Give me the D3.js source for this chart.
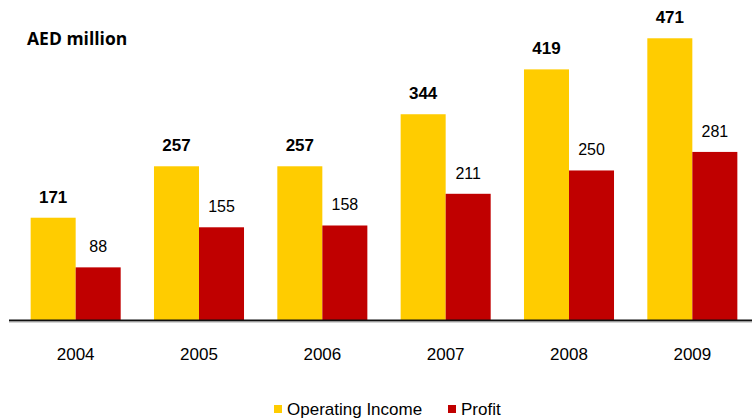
<!DOCTYPE html>
<html>
<head>
<meta charset="utf-8">
<script src="https://cdn.jsdelivr.net/npm/d3@7/dist/d3.min.js"></script>
<style>
  html, body { margin: 0; padding: 0; background: #fff; }
  svg { display: block; }
</style>
</head>
<body>
<svg id="chart" width="752" height="418"></svg>
<script>
// Yearly figures, AED million
const years = ["2004", "2005", "2006", "2007", "2008", "2009"];
const operatingIncome = [171, 257, 257, 344, 419, 471];
const profit = [88, 155, 158, 211, 250, 281];
const seriesNames = ["Operating Income", "Profit"];
const seriesColors = ["#FFCC00", "#C00000"];
const unitLabel = "AED million";

const FONT = "'Liberation Sans', Arial, sans-serif";
const svg = d3.select("#chart");
const W = 752;
const baseY = 320;

const x = d3.scaleBand().domain(years).range([14, 754]).paddingInner(0.27).paddingOuter(0.135);
const xs = d3.scaleBand().domain(seriesNames).range([0, x.bandwidth()]);
const y = d3.scaleLinear().domain([0, 535]).range([baseY, 0]);

const rows = years.map((yr, i) => ({ year: yr, values: [operatingIncome[i], profit[i]] }));

const groups = svg.selectAll("g.year").data(rows).join("g")
  .attr("class", "year")
  .attr("transform", d => `translate(${x(d.year)},0)`);

groups.selectAll("rect").data(d => d.values.map((v, k) => ({ v, k }))).join("rect")
  .attr("x", d => xs(seriesNames[d.k]))
  .attr("y", d => y(d.v))
  .attr("width", xs.bandwidth())
  .attr("height", d => baseY - y(d.v))
  .attr("fill", d => seriesColors[d.k]);

groups.selectAll("text.val").data(d => d.values.map((v, k) => ({ v, k }))).join("text")
  .attr("class", "val")
  .attr("x", d => xs(seriesNames[d.k]) + xs.bandwidth() / 2)
  .attr("y", d => y(d.v) - 15)
  .attr("text-anchor", "middle")
  .style("font-family", FONT)
  .style("font-size", d => d.k === 0 ? "17px" : "16px")
  .style("font-weight", d => d.k === 0 ? "bold" : "normal")
  .attr("fill", "#000")
  .text(d => d.v);

// baseline
svg.append("line")
  .attr("x1", 9).attr("x2", W)
  .attr("y1", baseY + 0.5).attr("y2", baseY + 0.5)
  .attr("stroke", "#111").attr("stroke-width", 2);
svg.append("line")
  .attr("x1", 9).attr("x2", W)
  .attr("y1", baseY + 2).attr("y2", baseY + 2)
  .attr("stroke", "#aaa").attr("stroke-width", 1);

// year labels
const xAxis = d3.axisBottom(x).tickSize(0).tickPadding(0);
const axisG = svg.append("g").attr("transform", `translate(0,${baseY})`).call(xAxis);
axisG.select(".domain").remove();
axisG.selectAll("text")
  .attr("y", 40)
  .attr("dy", 0)
  .style("font-family", FONT)
  .style("font-size", "17px")
  .attr("fill", "#000");

// unit label
svg.append("text")
  .attr("x", 27).attr("y", 45)
  .style("font-family", "'Open Sans', sans-serif")
  .style("font-weight", "bold")
  .style("font-size", "17.5px")
  .attr("fill", "#000")
  .text(unitLabel);

// legend
const legendX = [274, 448];
const leg = svg.selectAll("g.leg").data(seriesNames).join("g")
  .attr("class", "leg")
  .attr("transform", (d, i) => `translate(${legendX[i]},405)`);
leg.append("rect").attr("width", 8).attr("height", 8).attr("fill", (d, i) => seriesColors[i]);
leg.append("text")
  .attr("x", 13).attr("y", 10)
  .style("font-family", FONT)
  .style("font-size", "17px")
  .attr("fill", "#000")
  .text(d => d);
</script>
</body>
</html>
